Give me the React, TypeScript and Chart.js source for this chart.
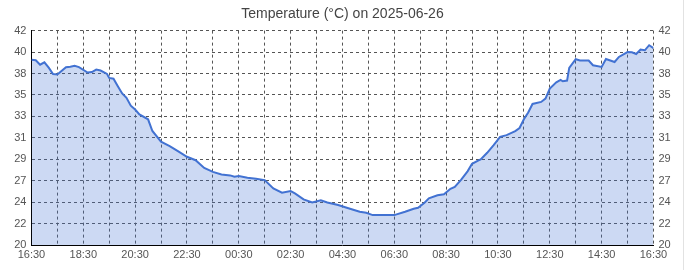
import { useEffect, useRef } from 'react';
import { Chart, registerables } from 'chart.js';

Chart.register(...registerables);

const TITLE = 'Temperature (°C) on 2025-06-26';
const START_TIME = '16:30';
const X_SPAN_MINUTES = 1440;
const X_GRID_STEP = 60;
const X_LABEL_STEP = 120;
const Y_MIN = 20;
const Y_MAX = 42;
const Y_STEP = 2.2;

const TIMES = [
  '16:30', '16:40', '16:50', '17:00', '17:10', '17:20', '17:30', '17:50', '18:00', '18:10',
  '18:20', '18:40', '18:50', '19:00', '19:10', '19:25', '19:30', '19:40', '19:50', '20:00',
  '20:10', '20:20', '20:30', '20:40', '21:00', '21:10', '21:30', '21:50', '22:10', '22:30',
  '22:50', '23:10', '23:30', '23:50', '00:10', '00:20', '00:30', '00:50', '01:10', '01:30',
  '01:50', '02:10', '02:30', '02:40', '03:00', '03:20', '03:40', '03:55', '04:20', '04:40',
  '05:10', '05:25', '05:40', '06:30', '06:55', '07:15', '07:25', '07:40', '07:50', '08:10',
  '08:25', '08:40', '08:50', '09:05', '09:20', '09:30', '09:45', '09:50', '10:05', '10:20',
  '10:35', '10:50', '11:10', '11:20', '11:30', '11:40', '11:50', '12:10', '12:20', '12:30',
  '12:45', '12:55', '13:00', '13:10', '13:15', '13:30', '13:40', '14:00', '14:10', '14:30',
  '14:40', '14:50', '15:00', '15:10', '15:30', '15:40', '15:50', '16:00', '16:10', '16:20',
  '16:30',
];

const TEMPS = [
  39.0, 38.95, 38.5, 38.75, 38.2, 37.55, 37.5, 38.25, 38.3, 38.4,
  38.25, 37.7, 37.75, 38.0, 37.9, 37.55, 37.15, 37.07, 36.3, 35.55,
  35.1, 34.3, 33.9, 33.4, 32.9, 31.7, 30.6, 30.15, 29.6, 29.05,
  28.7, 27.9, 27.5, 27.24, 27.14, 27.0, 27.07, 26.9, 26.8, 26.66,
  25.8, 25.36, 25.53, 25.3, 24.68, 24.37, 24.58, 24.37, 24.1, 23.82,
  23.41, 23.3, 23.07, 23.07, 23.41, 23.72, 23.82, 24.33, 24.78, 25.1,
  25.2, 25.77, 25.97, 26.7, 27.58, 28.33, 28.68, 28.78, 29.46, 30.25,
  31.1, 31.27, 31.68, 32.0, 32.9, 33.6, 34.47, 34.68, 35.03, 36.05,
  36.7, 36.94, 36.8, 36.87, 38.17, 39.06, 38.93, 38.93, 38.44, 38.27,
  39.09, 38.93, 38.78, 39.3, 39.8, 39.77, 39.6, 40.05, 39.98, 40.5,
  40.2,
];

function hm(t: string): number {
  const [h, m] = t.split(':').map(Number);
  return h * 60 + m;
}

const START_MIN = hm(START_TIME);

function elapsedMinutes(times: string[]): number[] {
  const out: number[] = [];
  let offset = 0;
  let prev = -1;
  for (const t of times) {
    const v = hm(t);
    if (v < prev) offset += 1440;
    prev = v;
    out.push(v + offset - START_MIN);
  }
  return out;
}

function fmt(value: number): string {
  const total = START_MIN + value;
  const h = Math.floor(total / 60) % 24;
  const m = total % 60;
  return `${String(h).padStart(2, '0')}:${String(m).padStart(2, '0')}`;
}

const FONT = 'Liberation Sans, Arial, Helvetica, sans-serif';

export default function App() {
  const ref = useRef<HTMLCanvasElement | null>(null);

  useEffect(() => {
    if (!ref.current) return;
    const xs = elapsedMinutes(TIMES);
    const points = xs.map((x, i) => ({ x, y: TEMPS[i] }));
    const tickFont = { family: FONT, size: 11 };
    const chart = new Chart(ref.current, {
      type: 'line',
      data: {
        datasets: [
          {
            data: points,
            borderColor: 'rgb(66,114,210)',
            backgroundColor: 'rgba(66,114,212,0.27)',
            borderWidth: 2,
            pointRadius: 0,
            tension: 0,
            fill: 'start',
          },
        ],
      },
      options: {
        animation: false,
        responsive: false,
        layout: { padding: { left: 9.2, right: 7.3, top: 0, bottom: 5.8 } },
        plugins: {
          legend: { display: false },
          tooltip: { enabled: false },
          title: {
            display: true,
            text: TITLE,
            color: '#444',
            font: { family: FONT, size: 14, weight: 'normal' },
            padding: { top: 6, bottom: 7.8 },
          },
        },
        scales: {
          x: {
            type: 'linear',
            min: 0,
            max: X_SPAN_MINUTES,
            grid: { color: '#555', lineWidth: 1, drawTicks: false },
            border: { display: true, color: '#000', width: 1, dash: [3, 3] },
            ticks: {
              stepSize: X_GRID_STEP,
              autoSkip: false,
              maxRotation: 0,
              padding: 3,
              color: '#555',
              font: tickFont,
              callback: (v: any) => (Number(v) % X_LABEL_STEP === 0 ? fmt(Number(v)) : ''),
            },
          },
          y: {
            type: 'linear',
            position: 'left',
            min: Y_MIN,
            max: Y_MAX,
            grid: { color: '#555', lineWidth: 1, drawTicks: false },
            border: { display: true, color: '#000', width: 1, dash: [3, 3] },
            ticks: {
              stepSize: Y_STEP,
              padding: 5,
              color: '#555',
              font: tickFont,
              callback: (v: any) => String(Math.round(Number(v))),
            },
          },
          y1: {
            type: 'linear',
            position: 'right',
            display: true,
            min: Y_MIN,
            max: Y_MAX,
            grid: { drawOnChartArea: false, drawTicks: false },
            border: { display: false },
            ticks: {
              stepSize: Y_STEP,
              padding: 5,
              color: '#555',
              font: tickFont,
              callback: (v: any) => String(Math.round(Number(v))),
            },
          },
        },
      },
    });
    return () => chart.destroy();
  }, []);

  return (
    <div
      style={{
        position: 'fixed',
        left: 0,
        top: 0,
        width: 683,
        height: 270,
        borderRight: '1px solid #e2e2e2',
        background: '#fff',
      }}
    >
      <canvas ref={ref} width={683} height={270} style={{ display: 'block' }} />
    </div>
  );
}
